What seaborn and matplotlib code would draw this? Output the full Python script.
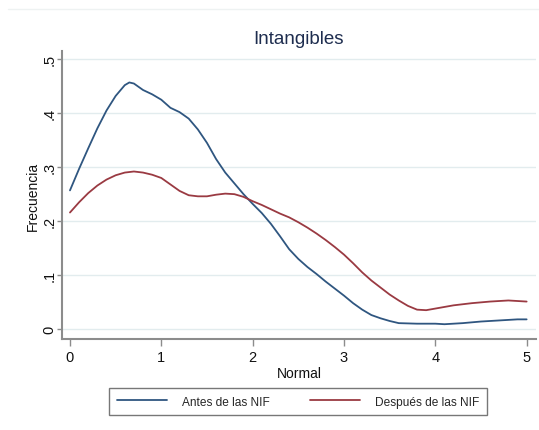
import matplotlib
matplotlib.use("Agg")
import matplotlib.pyplot as plt
import seaborn as sns
import pandas as pd
from matplotlib.lines import Line2D

title = "Intangibles"
xlabel = "Normal"
ylabel = "Frecuencia"
series_names = ["Antes de las NIF", "Después de las NIF"]

antes_x = [0, 0.1, 0.2, 0.3, 0.4, 0.5, 0.6, 0.65, 0.7, 0.8, 0.9, 1.0, 1.1, 1.2, 1.3, 1.4, 1.5,
           1.6, 1.7, 1.8, 1.9, 2.0, 2.1, 2.2, 2.3, 2.4, 2.5, 2.6, 2.7, 2.8, 2.9, 3.0, 3.1, 3.2,
           3.3, 3.4, 3.5, 3.6, 3.8, 4.0, 4.1, 4.3, 4.5, 4.7, 4.9, 5.0]
antes_y = [.257, .297, .335, .372, .405, .432, .452, .457, .455, .443, .435, .425, .41, .402, .39,
           .37, .345, .315, .29, .27, .25, .232, .215, .195, .172, .148, .13, .115, .102, .088,
           .075, .062, .048, .036, .026, .02, .015, .011, .010, .010, .009, .011, .014, .016,
           .018, .018]

despues_x = [0, 0.1, 0.2, 0.3, 0.4, 0.5, 0.6, 0.7, 0.8, 0.9, 1.0, 1.1, 1.2, 1.3, 1.4, 1.5, 1.6,
             1.7, 1.8, 1.9, 2.0, 2.1, 2.2, 2.3, 2.4, 2.5, 2.6, 2.7, 2.8, 2.9, 3.0, 3.1, 3.2, 3.3,
             3.4, 3.5, 3.6, 3.7, 3.8, 3.9, 4.0, 4.2, 4.4, 4.6, 4.8, 5.0]
despues_y = [.216, .235, .252, .266, .277, .285, .29, .292, .29, .286, .28, .268, .256, .248,
             .246, .246, .249, .251, .25, .245, .237, .23, .222, .214, .207, .198, .188, .177,
             .165, .152, .138, .122, .105, .09, .077, .064, .053, .043, .036, .035, .038, .044,
             .048, .051, .053, .051]

xticks = [0, 1, 2, 3, 4, 5]
yticks = [0, 0.1, 0.2, 0.3, 0.4, 0.5]
ytick_labels = ["0", ".1", ".2", ".3", ".4", ".5"]

df = pd.concat([
    pd.DataFrame({"x": antes_x, "y": antes_y, "serie": series_names[0]}),
    pd.DataFrame({"x": despues_x, "y": despues_y, "serie": series_names[1]}),
])

sns.set_theme(style="white")
plt.rcParams["font.family"] = ["Liberation Sans", "DejaVu Sans"]

fig = plt.figure(figsize=(5.39, 4.31), dpi=100)
ax = fig.add_axes([0.115, 0.211, 0.879, 0.668])

palette = {series_names[0]: "#2f5680", series_names[1]: "#9a3a42"}
sns.lineplot(data=df, x="x", y="y", hue="serie", palette=palette, ax=ax,
             linewidth=1.3, sort=True, legend=False, estimator=None)

ax.set_xlim(-0.0875, 5.1)
ax.set_ylim(-0.0185, 0.515)
ax.set_xticks(xticks)
ax.set_xticklabels([str(t) for t in xticks], fontsize=10.5)
ax.set_yticks(yticks)
ax.set_yticklabels(ytick_labels, fontsize=10.5, rotation=90, va="center")
ax.yaxis.grid(True, color="#e2ecee", linewidth=1)
ax.xaxis.grid(False)
for s in ["top", "right"]:
    ax.spines[s].set_visible(False)
for s in ["left", "bottom"]:
    ax.spines[s].set_color("#8c8c8c")
    ax.spines[s].set_linewidth(1.5)
ax.tick_params(axis="x", direction="out", length=5, width=1,
               color="#8c8c8c", labelcolor="#111111", pad=3)
ax.tick_params(axis="y", direction="out", length=3.5, width=1,
               color="#8c8c8c", labelcolor="#111111", pad=0.5)
ax.tick_params(left=True, bottom=True)
ax.set_xlabel(xlabel, fontsize=10, color="#111111", labelpad=1)
ax.set_ylabel(ylabel, fontsize=10, color="#111111", labelpad=1.5)

fig.text(0.553, 0.908, title, ha="center", va="center", fontsize=13.5, color="#1e2d4f")

handles = [Line2D([0], [0], color=palette[n], linewidth=1.3) for n in series_names]
leg = fig.legend(handles, series_names, loc="center", bbox_to_anchor=(0.553, 0.066),
                 ncol=2, frameon=True, fancybox=False, fontsize=8.6, handlelength=4.2,
                 columnspacing=3.4, borderpad=0.65, handletextpad=1.25, borderaxespad=0)
leg.get_frame().set_edgecolor("#555555")
leg.get_frame().set_linewidth(1.0)

fig.add_artist(Line2D([0.015, 1.0], [0.977, 0.977], transform=fig.transFigure,
                      color="#eef2f2", linewidth=1))

fig.savefig("out.png", dpi=100, facecolor="white")
